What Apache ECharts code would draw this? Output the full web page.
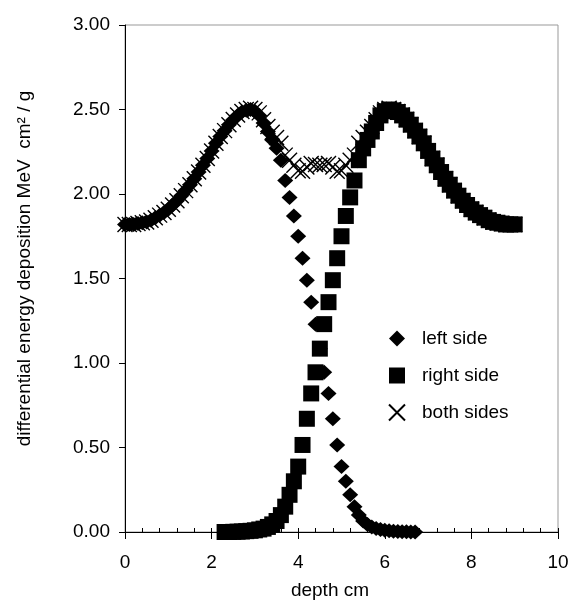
<!DOCTYPE html>
<html>
	<head>
		<meta charset="UTF-8">
		<title>differential energy deposition</title>
		<script src="https://cdn.jsdelivr.net/npm/echarts@6/dist/echarts.min.js"></script>
	</head>
	<body style="margin:0;background:#fff;">
		<div id="chart1" style="width:572px;height:605px;"></div>
	</body>
</html>
<script type="text/javascript">
    // depth (cm), one point every 0.1 cm
    var depth = [0.0, 0.1, 0.2, 0.3, 0.4, 0.5, 0.6, 0.7, 0.8, 0.9,
        1.0, 1.1, 1.2, 1.3, 1.4, 1.5, 1.6, 1.7, 1.8, 1.9,
        2.0, 2.1, 2.2, 2.3, 2.4, 2.5, 2.6, 2.7, 2.8, 2.9,
        3.0, 3.1, 3.2, 3.3, 3.4, 3.5, 3.6, 3.7, 3.8, 3.9,
        4.0, 4.1, 4.2, 4.3, 4.4, 4.5, 4.6, 4.7, 4.8, 4.9,
        5.0, 5.1, 5.2, 5.3, 5.4, 5.5, 5.6, 5.7, 5.8, 5.9,
        6.0, 6.1, 6.2, 6.3, 6.4, 6.5, 6.6, 6.7, 6.8, 6.9,
        7.0, 7.1, 7.2, 7.3, 7.4, 7.5, 7.6, 7.7, 7.8, 7.9,
        8.0, 8.1, 8.2, 8.3, 8.4, 8.5, 8.6, 8.7, 8.8, 8.9, 9.0];

    // left side (null = no point)
    var leftSide = [1.82, 1.82, 1.82, 1.825, 1.83, 1.835, 1.845, 1.86, 1.875, 1.89,
        1.91, 1.935, 1.96, 1.99, 2.02, 2.055, 2.09, 2.13, 2.17, 2.21,
        2.255, 2.30, 2.34, 2.375, 2.41, 2.44, 2.465, 2.485, 2.495, 2.50,
        2.49, 2.465, 2.42, 2.37, 2.32, 2.27, 2.20, 2.08, 1.98, 1.87,
        1.75, 1.62, 1.49, 1.36, 1.23, 1.085, 0.945, 0.82, 0.67, 0.515,
        0.387, 0.30, 0.22, 0.15, 0.10, 0.065, 0.045, 0.03, 0.02, 0.015,
        0.01, 0.007, 0.005, 0.003, 0.002, 0.001, 0.0, 0.0, null, null,
        null, null, null, null, null, null, null, null, null, null,
        null, null, null, null, null, null, null, null, null, null, null];

    // right side
    var rightSide = [null, null, null, null, null, null, null, null, null, null,
        null, null, null, null, null, null, null, null, null, null,
        null, null, null, 0.0, 0.0, 0.001, 0.002, 0.003, 0.005, 0.007,
        0.01, 0.015, 0.02, 0.03, 0.045, 0.065, 0.10, 0.15, 0.22, 0.30,
        0.387, 0.515, 0.67, 0.82, 0.945, 1.085, 1.23, 1.36, 1.49, 1.62,
        1.75, 1.87, 1.98, 2.08, 2.20, 2.27, 2.32, 2.37, 2.42, 2.465,
        2.49, 2.50, 2.495, 2.485, 2.465, 2.44, 2.41, 2.375, 2.34, 2.30,
        2.255, 2.21, 2.17, 2.13, 2.09, 2.055, 2.02, 1.99, 1.96, 1.935,
        1.91, 1.89, 1.875, 1.86, 1.845, 1.835, 1.83, 1.825, 1.82, 1.82, 1.82];

    // both sides
    var bothSides = [1.82, 1.82, 1.82, 1.825, 1.83, 1.835, 1.845, 1.86, 1.875, 1.89,
        1.91, 1.935, 1.96, 1.99, 2.02, 2.055, 2.09, 2.13, 2.17, 2.21,
        2.255, 2.30, 2.34, 2.375, 2.41, 2.441, 2.467, 2.488, 2.50, 2.507,
        2.50, 2.48, 2.44, 2.40, 2.365, 2.335, 2.30, 2.23, 2.20, 2.17,
        2.137, 2.135, 2.16, 2.18, 2.175, 2.17, 2.175, 2.18, 2.16, 2.135,
        2.137, 2.17, 2.20, 2.23, 2.30, 2.335, 2.365, 2.40, 2.44, 2.48,
        2.50, 2.507, 2.50, 2.488, 2.467, 2.441, 2.41, 2.375, 2.34, 2.30,
        2.255, 2.21, 2.17, 2.13, 2.09, 2.055, 2.02, 1.99, 1.96, 1.935,
        1.91, 1.89, 1.875, 1.86, 1.845, 1.835, 1.83, 1.825, 1.82, 1.82, 1.82];

    var seriesNames = ['left side', 'right side', 'both sides'];
    var yTicks = [0, 0.5, 1.0, 1.5, 2.0, 2.5, 3.0];
    var xTicks = [0, 2, 4, 6, 8, 10];

    function pairs(vals) {
        var out = [];
        for (var i = 0; i < depth.length; i++) {
            if (vals[i] != null) out.push([depth[i], vals[i]]);
        }
        return out;
    }

    var font = 'Liberation Sans, Arial, sans-serif';
    var chart1 = echarts.init(document.getElementById('chart1'));

    var option = {
        backgroundColor: '#fff',
        animation: false,
        textStyle: { fontFamily: font },
        grid: {
            left: 125,
            right: 14,
            top: 25,
            bottom: 69,
            show: true,
            borderColor: '#999',
            borderWidth: 1
        },
        legend: {
            orient: 'vertical',
            left: 383,
            top: 324,
            itemWidth: 16,
            itemHeight: 16,
            itemGap: 18,
            textStyle: { fontSize: 19, color: '#000', fontFamily: font, padding: [0, 0, 0, 12] },
            data: seriesNames
        },
        xAxis: [{
            type: 'value',
            position: 'bottom',
            min: xTicks[0],
            max: xTicks[xTicks.length - 1],
            interval: 2,
            name: 'depth cm',
            nameLocation: 'middle',
            nameGap: 49,
            nameTextStyle: { fontSize: 19, color: '#000', padding: [0, 23, 0, 0] },
            axisLine: { lineStyle: { color: '#000', width: 1 } },
            axisTick: { length: 7, lineStyle: { color: '#000' } },
            axisLabel: { fontSize: 19, color: '#000', margin: 21 },
            splitLine: { show: false }
        }, {
            // small ticks every 0.4 pointing up
            type: 'value',
            position: 'bottom',
            min: 0,
            max: 10,
            interval: 0.4,
            axisLine: { lineStyle: { color: '#000', width: 1 } },
            axisTick: { inside: true, length: 4, lineStyle: { color: '#000' } },
            axisLabel: { show: false },
            splitLine: { show: false }
        }],
        yAxis: {
            type: 'value',
            min: yTicks[0],
            max: yTicks[yTicks.length - 1],
            interval: 0.5,
            name: 'differential energy deposition MeV  cm\u00b2 / g',
            nameLocation: 'middle',
            nameGap: 91,
            nameTextStyle: { fontSize: 19, color: '#000', padding: [0, 0, 0, 20] },
            axisLine: { lineStyle: { color: '#000', width: 1 } },
            axisTick: { length: 6, lineStyle: { color: '#000' } },
            axisLabel: {
                fontSize: 19,
                color: '#000',
                margin: 15,
                formatter: function (v) { return v.toFixed(2); }
            },
            splitLine: { show: false }
        },
        series: [{
            name: seriesNames[0],
            type: 'scatter',
            symbol: 'diamond',
            symbolSize: [16, 15],
            itemStyle: { color: '#000', opacity: 1 },
            data: pairs(leftSide)
        }, {
            name: seriesNames[1],
            type: 'scatter',
            symbol: 'rect',
            symbolSize: 16,
            itemStyle: { color: '#000', opacity: 1 },
            data: pairs(rightSide)
        }, {
            name: seriesNames[2],
            type: 'scatter',
            symbol: 'path://M0,0 L10,10 M10,0 L0,10',
            symbolSize: 15,
            itemStyle: { color: 'rgba(0,0,0,0)', borderColor: '#000', borderWidth: 1.4, opacity: 1 },
            data: pairs(bothSides)
        }]
    };
    chart1.setOption(option);
</script>
